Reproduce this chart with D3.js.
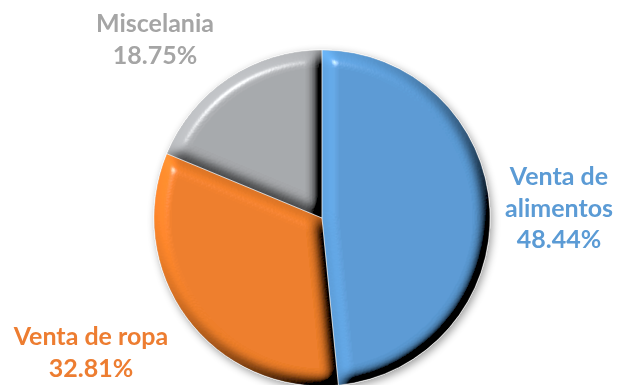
<!DOCTYPE html>
<html>
<head>
<meta charset="utf-8">
<script src="https://cdn.jsdelivr.net/npm/d3@7"></script>
<style>
  html, body { margin: 0; padding: 0; background: #fff; }
  svg { display: block; }
</style>
</head>
<body>
<svg id="chart" width="623" height="385"></svg>
<script>
// Shares of income by activity
const categories = ["Venta de alimentos", "Venta de ropa", "Miscelania"];
const values = [48.44, 32.81, 18.75];
const colors = ["#5B9BD5", "#ED7D31", "#A5A5A5"];
const fills = ["#5B9BD5", "#EE7E29", "#A7A9AC"];
// label lines per slice
const labelLines = [["Venta de", "alimentos", "48.44%"], ["Venta de ropa", "32.81%"], ["Miscelania", "18.75%"]];

const svg = d3.select("#chart");
const cx = 322, cy = 218, R = 168;

const defs = svg.append("defs");

// bevel: blurred alpha used as a height map, lit from the upper left
const bevel = defs.append("filter").attr("id", "bevel")
  .attr("x", "-10%").attr("y", "-10%").attr("width", "120%").attr("height", "120%");
bevel.append("feGaussianBlur").attr("in", "SourceAlpha").attr("stdDeviation", 7).attr("result", "blur");
const light = bevel.append("feDiffuseLighting").attr("in", "blur")
  .attr("surfaceScale", 14).attr("diffuseConstant", 1).attr("lighting-color", "#fff").attr("result", "diff");
light.append("feDistantLight").attr("azimuth", 225).attr("elevation", 45);
bevel.append("feComposite").attr("in", "SourceGraphic").attr("in2", "diff")
  .attr("operator", "arithmetic").attr("k1", 1.414).attr("k2", 0).attr("k3", 0).attr("k4", 0)
  .attr("result", "lit");
const spec = bevel.append("feSpecularLighting").attr("in", "blur")
  .attr("surfaceScale", 14).attr("specularConstant", 1).attr("specularExponent", 60)
  .attr("lighting-color", "#fff").attr("result", "spec");
spec.append("feDistantLight").attr("azimuth", 235).attr("elevation", 40);
bevel.append("feComposite").attr("in", "spec").attr("in2", "SourceAlpha").attr("operator", "in").attr("result", "specIn");
bevel.append("feComposite").attr("in", "lit").attr("in2", "specIn")
  .attr("operator", "arithmetic").attr("k1", 0).attr("k2", 1).attr("k3", 0.5).attr("k4", 0)
  .attr("result", "shiny");
bevel.append("feComposite").attr("in", "shiny").attr("in2", "SourceAlpha").attr("operator", "in");

// soft shadow under the whole pie
const shadow = defs.append("filter").attr("id", "shadow")
  .attr("x", "-20%").attr("y", "-20%").attr("width", "140%").attr("height", "140%");
shadow.append("feGaussianBlur").attr("in", "SourceAlpha").attr("stdDeviation", 4).attr("result", "sb");
shadow.append("feOffset").attr("in", "sb").attr("dx", 2).attr("dy", 3).attr("result", "so");
shadow.append("feComponentTransfer").attr("in", "so").attr("result", "sa")
  .append("feFuncA").attr("type", "linear").attr("slope", 0.4);
const merge = shadow.append("feMerge");
merge.append("feMergeNode").attr("in", "sa");
merge.append("feMergeNode").attr("in", "SourceGraphic");

const pie = d3.pie().sort(null).value(d => d).startAngle(0).endAngle(2 * Math.PI);
const arcs = pie(values);
const arc = d3.arc().innerRadius(0).outerRadius(R);

const g = svg.append("g").attr("transform", `translate(${cx},${cy})`);
const slices = g.append("g").attr("filter", "url(#shadow)");

slices.selectAll("path.slice")
  .data(arcs)
  .join("path")
  .attr("class", "slice")
  .attr("d", arc)
  .attr("fill", (d, i) => fills[i])
  .attr("filter", "url(#bevel)");

// thin light separators between slices
slices.selectAll("path.sep")
  .data(arcs)
  .join("path")
  .attr("class", "sep")
  .attr("d", arc)
  .attr("fill", "none")
  .attr("stroke", "rgba(255,255,255,0.5)")
  .attr("stroke-width", 0.8);

// labels
const labelPos = [[559, 185], [91, 345], [155, 32]];
const lineH = 31.5;
labelLines.forEach((lines, i) => {
  const t = svg.append("text")
    .attr("text-anchor", "middle")
    .attr("font-family", "Lato, 'Open Sans', sans-serif")
    .attr("font-weight", "bold")
    .attr("font-size", 25)
    .attr("fill", colors[i]);
  lines.forEach((s, j) => {
    t.append("tspan").attr("x", labelPos[i][0]).attr("y", labelPos[i][1] + j * lineH).text(s);
  });
});
</script>
</body>
</html>
